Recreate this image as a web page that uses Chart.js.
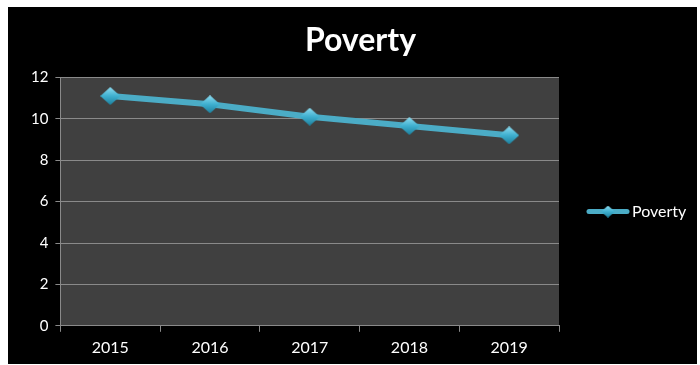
<!DOCTYPE html>
<html>
<head>
<meta charset="utf-8">
<script src="https://cdn.jsdelivr.net/npm/chart.js@4.4.1/dist/chart.umd.min.js"></script>
<style>
  html, body { margin: 0; padding: 0; background: #fff; }
  #wrap { position: absolute; left: 8px; top: 7px; width: 689px; height: 357px; background: #000; }
</style>
</head>
<body>
<div id="wrap"><canvas id="povertyChart"></canvas></div>
<script>
'use strict';

const years = ['2015', '2016', '2017', '2018', '2019'];
const povertyValues = [11.1, 10.7, 10.1, 9.65, 9.2];
const seriesName = 'Poverty';

const lineColor = '#4bacc6';

// diamond marker with a bit of shading, like the office chart
function makeDiamond(w, h) {
  let c = document.createElement('canvas');
  c.width = w; c.height = h;
  let g = c.getContext('2d');
  let grad = g.createLinearGradient(0, 0, 0, h);
  grad.addColorStop(0, '#8fdcf0');
  grad.addColorStop(0.5, '#3fb0d0');
  grad.addColorStop(1, '#1d7f9c');
  g.fillStyle = grad;
  g.beginPath();
  g.moveTo(w / 2, 0);
  g.lineTo(w, h / 2);
  g.lineTo(w / 2, h);
  g.lineTo(0, h / 2);
  g.closePath();
  g.fill();
  return c;
}

const pointImg = makeDiamond(20, 18);
const legendDiamond = makeDiamond(14, 12);

const plotBg = {
  id: 'plotBg',
  beforeDraw(chart) {
    let a = chart.chartArea;
    let ctx = chart.ctx;
    ctx.save();
    ctx.fillStyle = '#404040';
    ctx.fillRect(a.left, a.top, a.right - a.left, a.bottom - a.top);
    ctx.restore();
  }
};

// legend drawn by hand to the right of the plot, office style
const sideLegend = {
  id: 'sideLegend',
  afterDraw(chart) {
    let ds = chart.data.datasets[0];
    let a = chart.chartArea;
    let ctx = chart.ctx;
    let x = a.right + 28;
    let y = (a.top + a.bottom) / 2 + 10;
    ctx.save();
    ctx.strokeStyle = ds.borderColor;
    ctx.lineWidth = 5;
    ctx.lineCap = 'round';
    ctx.beginPath();
    ctx.moveTo(x + 2, y);
    ctx.lineTo(x + 40, y);
    ctx.stroke();
    ctx.drawImage(legendDiamond, x + 14, y - 6);
    ctx.fillStyle = '#fff';
    ctx.font = '16px Lato';
    ctx.textBaseline = 'middle';
    ctx.fillText(ds.label, x + 45, y);
    ctx.restore();
  }
};

let ctx = document.getElementById('povertyChart');
let myChart = new Chart(ctx, {
  type: 'line',
  data: {
    labels: years,
    datasets: [{
      label: seriesName,
      data: povertyValues,
      borderColor: lineColor,
      backgroundColor: lineColor,
      borderWidth: 6,
      pointStyle: pointImg,
      pointRadius: 10,
      pointHoverRadius: 10,
      tension: 0,
    }],
  },
  options: {
    responsive: true,
    maintainAspectRatio: false,
    animation: false,
    layout: { padding: { left: 16, right: 0, top: 0, bottom: 1 } },
    plugins: {
      title: {
        display: true,
        text: seriesName,
        color: '#fff',
        font: { family: 'Lato', size: 32, weight: 'bold' },
        padding: { top: 14, bottom: 18 },
      },
      legend: { display: false },
      tooltip: { enabled: false },
    },
    scales: {
      x: {
        offset: true,
        grid: { display: true, drawOnChartArea: false, color: '#8a8a8a', tickLength: 6, offset: true },
        border: { color: '#8a8a8a' },
        ticks: { color: '#fff', font: { family: 'Lato', size: 16 }, padding: 6 },
      },
      y: {
        min: 0,
        max: 12,
        ticks: { stepSize: 2, color: '#fff', font: { family: 'Lato', size: 15 }, padding: 7 },
        grid: { color: '#8a8a8a', tickLength: 5 },
        border: { color: '#8a8a8a' },
      },
      // empty axis on the right that only keeps room for the legend
      side: {
        type: 'linear',
        position: 'right',
        grid: { display: false },
        border: { display: false },
        ticks: { display: false },
        afterFit(scale) { scale.width = 138; },
      },
    },
  },
  plugins: [plotBg, sideLegend],
});
</script>
</body>
</html>
